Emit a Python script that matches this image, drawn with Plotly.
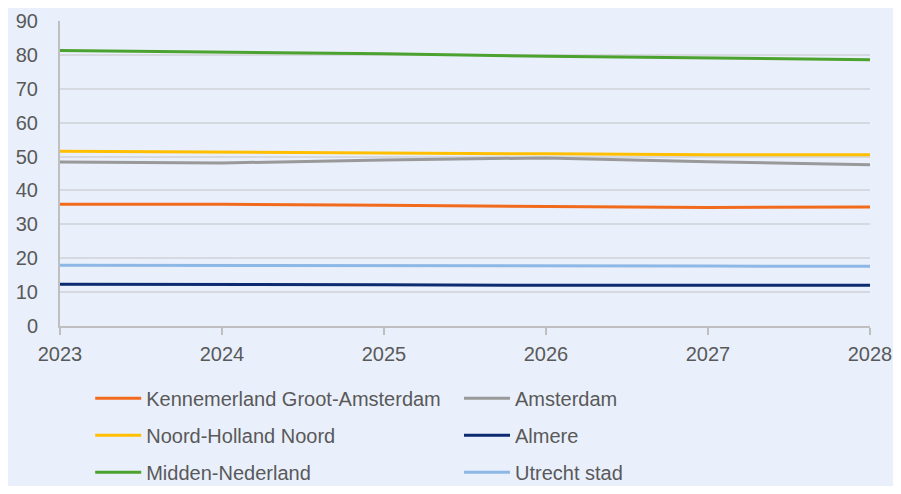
import plotly.graph_objects as go

years = [2023, 2024, 2025, 2026, 2027, 2028]

kennemerland = [35.9, 35.9, 35.6, 35.4, 35.0, 35.1]
amsterdam = [48.4, 48.1, 49.0, 49.6, 48.5, 47.6]
noord_holland_noord = [51.6, 51.4, 51.1, 50.8, 50.5, 50.5]
almere = [12.3, 12.3, 12.2, 12.0, 12.0, 12.0]
midden_nederland = [81.3, 80.9, 80.3, 79.6, 79.0, 78.6]
utrecht_stad = [17.9, 17.9, 17.9, 17.8, 17.7, 17.6]

series = [
    ("Kennemerland Groot-Amsterdam", kennemerland, "#F26B1D", "legend"),
    ("Amsterdam", amsterdam, "#999999", "legend2"),
    ("Noord-Holland Noord", noord_holland_noord, "#FFBF00", "legend"),
    ("Almere", almere, "#0B2A6F", "legend2"),
    ("Midden-Nederland", midden_nederland, "#4CA22E", "legend"),
    ("Utrecht stad", utrecht_stad, "#8DB8E6", "legend2"),
]

fig = go.Figure()
for name, vals, color, leg in series:
    fig.add_trace(go.Scatter(
        x=years, y=vals, mode="lines", name=name,
        line=dict(color=color, width=3),
        legend=leg, legendgroup=name,
    ))

bg = "#E9F0FC"
tick_font = dict(family="Liberation Sans, Arial, sans-serif", size=20, color="#595959")
leg_font = dict(family="Liberation Sans, Arial, sans-serif", size=20, color="#595959")

fig.update_layout(
    width=885, height=478,
    paper_bgcolor=bg, plot_bgcolor=bg,
    margin=dict(l=52, r=23, t=13, b=160, autoexpand=False),
    font=tick_font,
    showlegend=True,
    xaxis=dict(
        range=[2023, 2028], tickmode="array", tickvals=years,
        ticktext=[str(y) for y in years],
        showgrid=False, showline=True, linecolor="#BFBFBF", linewidth=2,
        ticks="outside", ticklen=7, tickcolor="#BFBFBF", tickwidth=1.5,
        zeroline=False, ticklabelstandoff=2, tickfont=tick_font,
        ticklabeloverflow="allow",
    ),
    yaxis=dict(
        range=[0, 90], dtick=10, showgrid=True, gridcolor="#D6D9DF", gridwidth=1.5,
        showline=True, linecolor="#BFBFBF", linewidth=2, zeroline=False,
        ticks="", ticklabelstandoff=16, tickfont=tick_font,
    ),
    legend=dict(
        x=0.0373, xanchor="left", y=-0.173, yanchor="top",
        orientation="v", tracegroupgap=8, itemwidth=46, bgcolor="rgba(0,0,0,0)",
        font=leg_font,
    ),
    legend2=dict(
        x=0.4926, xanchor="left", y=-0.173, yanchor="top",
        orientation="v", tracegroupgap=8, itemwidth=46, bgcolor="rgba(0,0,0,0)",
        font=leg_font,
    ),
)

fig.write_html("out.html")
